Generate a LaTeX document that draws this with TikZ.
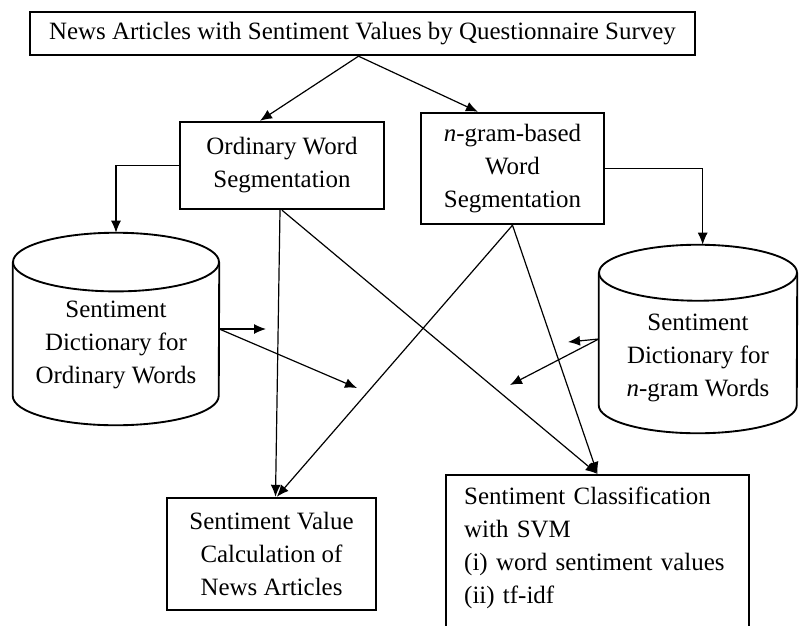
\documentclass[tikz,border=0pt]{standalone}
\usepackage{fontspec}
\setmainfont{Liberation Serif}
\usepackage{tikz}
\usetikzlibrary{arrows.meta}

\begin{document}
\begin{tikzpicture}[x=0.75pt,y=-0.75pt,
  font=\fontsize{18.7}{24.75}\selectfont,
  box/.style={draw,line width=1.8pt,align=center,inner sep=0pt},
  dict/.style={inner sep=0pt},
  drum/.style={line width=1.4pt},
  link/.style={line width=0.9pt,-{Latex[length=9pt,width=7.5pt]}}]
\useasboundingbox (0,0) rectangle (799,625);

\node[box,minimum width=498.75pt,minimum height=32.25pt] (news) at (362.5,33.5) {News Articles with Sentiment Values by Questionnaire Survey};
\node[box,minimum width=153pt,minimum height=65.25pt] (ordseg) at (282,165.5) {Ordinary Word\\Segmentation};
\node[box,minimum width=137.25pt,minimum height=83.25pt] (ngramseg) at (512.5,168.5) {\textit{n}-gram-based\\Word\\Segmentation};
\node[dict,minimum width=154.5pt,minimum height=144pt] (dictord) at (116,329) {};
\node[dict,minimum width=148.5pt,minimum height=141pt] (dictngram) at (698,339) {};
\node[align=center] (dictordtxt) at (116,344.5) {Sentiment\\Dictionary for\\Ordinary Words};
\node[align=center] (dictngramtxt) at (698,357.5) {Sentiment\\Dictionary for\\\textit{n}-gram Words};
\node[box,minimum width=156.75pt,minimum height=84pt] (calc) at (271.5,554) {Sentiment Value\\Calculation of\\News Articles};
\node[box,anchor=north west,align=left,inner xsep=13.5pt,inner ysep=9pt,text width=200pt,text depth=100pt] (svm) at (445,474) {Sentiment Classification\\with SVM\\(i) word sentiment values\\(ii) tf-idf};

% cylinder outlines round the dictionaries
\foreach \d/\rx/\ry in {dictord/77.25pt/22pt, dictngram/74.25pt/21pt}{
  \draw[drum] ([yshift=-\ry]\d.north) ellipse [x radius=\rx, y radius=\ry];
  \draw[drum] ([yshift=-\ry]\d.north west) -- ([yshift=\ry]\d.south west) arc [start angle=180, end angle=360, x radius=\rx, y radius=\ry] -- ([yshift=-\ry]\d.north east);
}

\coordinate (o1) at (266,329); \coordinate (o2) at (357,388);
\coordinate (n1) at (568,342); \coordinate (n2) at (510,385);

\draw[link] ([xshift=-3pt]news.south) -- ([xshift=-16.5pt]ordseg.north);
\draw[link] ([xshift=-3pt]news.south) -- ([xshift=-25.9pt]ngramseg.north);
\draw[link] (ordseg.west) -| (dictord.north);
\draw[link] (ngramseg.east) -| ([xshift=3.5pt]dictngram.north);
\draw[link] (dictord.east) -- (o1); \draw[link] (dictord.east) -- (o2);
\draw[link] (dictngram.west) -- (n1); \draw[link] (dictngram.west) -- (n2);
\draw[link] ([xshift=-1.5pt]ordseg.south) -- ([xshift=3pt]calc.north);
\draw[link] (ordseg.south) -- (svm.north);
\draw[link] (ngramseg.south) -- ([xshift=4pt]calc.north);
\draw[link] (ngramseg.south) -- (svm.north);
\end{tikzpicture}
\end{document}
